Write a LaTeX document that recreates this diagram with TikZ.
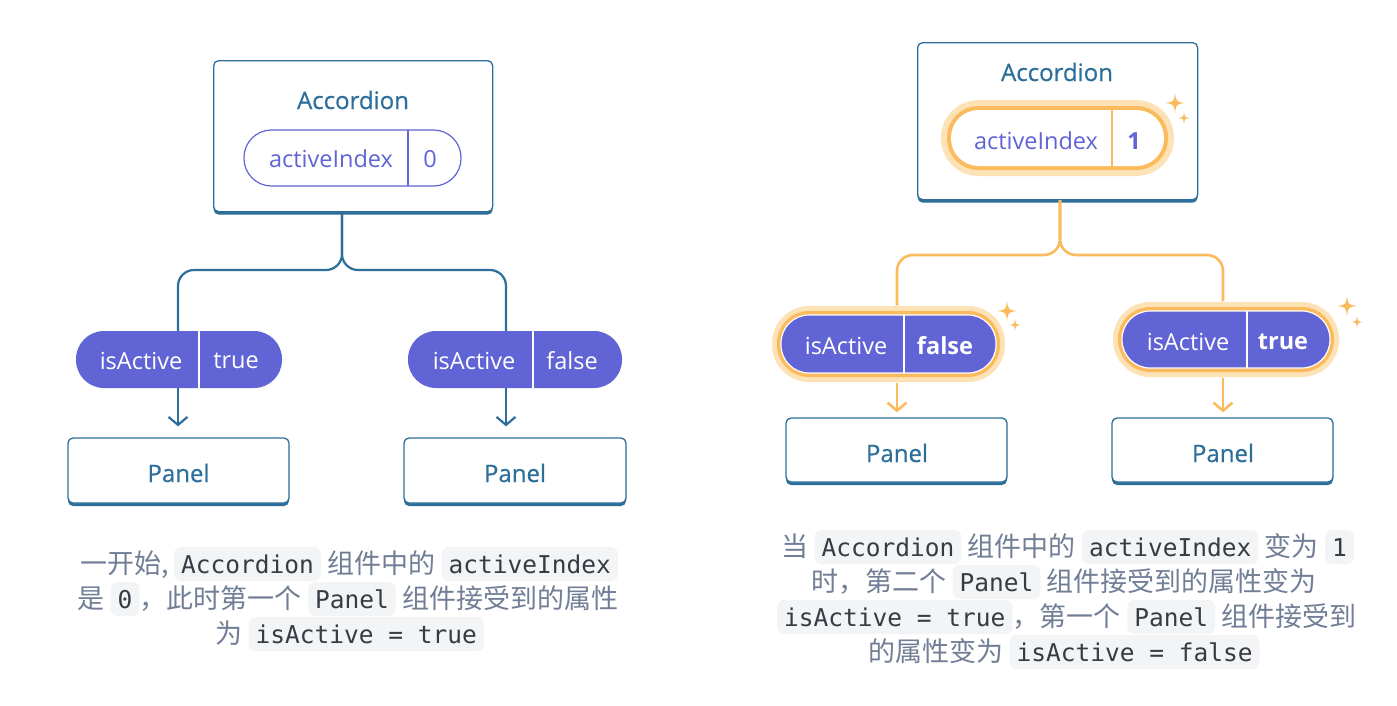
\documentclass[tikz,border=0pt]{standalone}
\usepackage{fontspec}
\setmainfont{Open Sans}
\setmonofont{DejaVu Sans Mono}
\newfontfamily\cjk{Noto Sans CJK SC}
\newfontfamily\uimed[FakeBold=0.6]{Open Sans}
\usetikzlibrary{arrows.meta}
\definecolor{rblue}{HTML}{2D6F9A}
\definecolor{rpurple}{HTML}{6064D4}
\definecolor{rorange}{HTML}{FBBA5C}
\definecolor{rglow}{HTML}{FDE2B6}
\definecolor{capgray}{HTML}{717E96}
\definecolor{codebg}{HTML}{F3F4F6}
\definecolor{codetext}{HTML}{363B44}
\tikzset{
  box/.style={draw=rblue, line width=1.3pt, fill=white, rounded corners=5pt, inner sep=0pt,
    preaction={fill=rblue, transform canvas={yshift=-3pt}}},
  title/.style={text=rblue, font=\uimed\fontsize{24}{24}\selectfont, inner sep=0pt},
  pilltxt/.style={font=\fontsize{23.5}{24}\selectfont, inner sep=0pt},
  pillbold/.style={font=\bfseries\fontsize{23.5}{24}\selectfont, inner sep=0pt},
  pillout/.style={draw=rpurple, line width=1.2pt, fill=white, rounded corners=27.5pt, inner sep=0pt},
  pillfill/.style={fill=rpurple, rounded corners=28pt, inner sep=0pt},
  hlpill/.style={fill=rpurple, draw=white, line width=1.2pt, rounded corners=28pt, inner sep=0pt,
    preaction={draw=rglow, line width=18pt}, preaction={draw=rorange, line width=8pt}},
  hlwhite/.style={fill=white, rounded corners=27.5pt, inner sep=0pt,
    preaction={draw=rglow, line width=20pt}, preaction={draw=rorange, line width=8pt}},
  conn/.style={draw=rblue, line width=2.2pt, rounded corners=16pt},
  oconn/.style={draw=rorange, line width=2.6pt, rounded corners=16pt},
  barb/.style={-{Straight Barb[length=8pt, width=19pt]}},
  captxt/.style={anchor=base west, inner sep=0pt, font=\cjk\fontsize{27}{27}\selectfont, text=capgray},
  chip/.style={anchor=base west, fill=codebg, rounded corners=7pt, inner xsep=7pt, inner ysep=6pt,
    text height=20pt, text depth=2pt, font=\ttfamily\fontsize{24.5}{24.5}\selectfont, text=codetext},
  sparkle/.pic={\fill[rorange] (0,-1) .. controls (0.12,-0.12) .. (1,0) .. controls (0.12,0.12) .. (0,1)
     .. controls (-0.12,0.12) .. (-1,0) .. controls (-0.12,-0.12) .. cycle;}
}
\begin{document}
\begin{tikzpicture}[x=1pt, y=-1pt]
\useasboundingbox (0,0) rectangle (1397,705);
\fill[white] (0,0) rectangle (1397,705);

% ===== LEFT =====
\node[box, minimum width=279pt, minimum height=151pt, anchor=north west] (accL) at (213,60) {};
\node[title] (accLt) at (353,100) {Accordion};
\node[pillout, minimum width=217pt, minimum height=56pt] (aiL) at (352.5,158) {};
\draw[rpurple, line width=1.2pt] (408,130) -- (408,186);
\node[pilltxt, text=rpurple] (aiLk) at (331,159) {activeIndex};
\node[pilltxt, text=rpurple] (aiLv) at (430,159) {0};

\coordinate (jL) at (342,212);
\node[pillfill, minimum width=206pt, minimum height=57pt] (pL1) at (179,359.5) {};
\draw[white, line width=1.2pt] (199,331) -- (199,388);
\node[pilltxt, text=white] (pL1k) at (141,361) {isActive};
\node[pilltxt, text=white] (pL1v) at (236,361) {true};

\node[pillfill, minimum width=214pt, minimum height=57pt] (pL2) at (515,359.5) {};
\draw[white, line width=1.2pt] (533,331) -- (533,388);
\node[pilltxt, text=white] (pL2k) at (474,361) {isActive};
\node[pilltxt, text=white] (pL2v) at (572,361) {false};

\draw[conn] (jL) -- (342,270) -| ([xshift=-1pt]pL1.north);
\draw[conn] (jL) -- (342,270) -| ([xshift=-9pt]pL2.north);

\node[box, minimum width=221pt, minimum height=65pt] (panL1) at (178.5,470.5) {};
\node[title] (panL1t) at (178.5,473) {Panel};
\node[box, minimum width=222pt, minimum height=65pt] (panL2) at (515,470.5) {};
\node[title] (panL2t) at (515,473) {Panel};

\draw[rblue, line width=2.2pt, barb, shorten >=11pt] ([xshift=-1pt]pL1.south) -- ([xshift=-0.5pt]panL1.north);
\draw[rblue, line width=2.2pt, barb, shorten >=11pt] ([xshift=-9pt]pL2.south) -- ([xshift=-9pt]panL2.north);

% ===== RIGHT =====
\node[box, minimum width=280pt, minimum height=157pt, anchor=north west] (accR) at (917,42) {};
\node[title] (accRt) at (1057,72) {Accordion};
\node[hlwhite, minimum width=213pt, minimum height=56pt] (aiR) at (1057.5,138) {};
\draw[rorange, line width=1.5pt] (1112,110) -- (1112,166);
\node[pilltxt, text=rpurple] (aiRk) at (1036,141) {activeIndex};
\node[pillbold, text=rpurple] (aiRv) at (1134,141) {1};
\pic at (1175,103) [scale=10] {sparkle};
\pic at (1184,118) [scale=6] {sparkle};

\coordinate (jR) at (1060,200);
\node[hlpill, minimum width=215pt, minimum height=58pt] (pR1) at (888.5,344) {};
\draw[white, line width=1.2pt] (904,315) -- (904,373);
\node[pilltxt, text=white] (pR1k) at (846,346) {isActive};
\node[pillbold, text=white] (pR1v) at (945,346) {false};
\pic at (1007,311) [scale=10] {sparkle};
\pic at (1015,325) [scale=6] {sparkle};

\node[hlpill, minimum width=208pt, minimum height=57pt] (pR2) at (1226,339.5) {};
\draw[white, line width=1.2pt] (1247,311) -- (1247,368);
\node[pilltxt, text=white] (pR2k) at (1188,342) {isActive};
\node[pillbold, text=white] (pR2v) at (1283,342) {true};
\pic at (1347,306) [scale=10] {sparkle};
\pic at (1357,322) [scale=6] {sparkle};

\draw[oconn] (jR) -- (1060,255) -| ([xshift=8.5pt, yshift=9pt]pR1.north);
\draw[oconn] (jR) -- (1060,255) -| ([xshift=-3pt, yshift=9pt]pR2.north);

\node[box, minimum width=221pt, minimum height=64pt] (panR1) at (896.5,450) {};
\node[title] (panR1t) at (897,453) {Panel};
\node[box, minimum width=221pt, minimum height=64pt] (panR2) at (1222.5,450) {};
\node[title] (panR2t) at (1223,453) {Panel};

\draw[rorange, line width=2.6pt, barb, shorten >=5pt] ([xshift=8.5pt, yshift=-9pt]pR1.south) -- ([xshift=0.5pt]panR1.north);
\draw[rorange, line width=2.6pt, barb, shorten >=5pt] ([xshift=-3pt, yshift=-9pt]pR2.south) -- ([xshift=0.5pt]panR2.north);

% ===== LEFT CAPTION =====
\node[captxt] (c1a) at (80,573) {一开始,};
\node[chip] (c1b) at ([xshift=5pt]c1a.base east) {Accordion};
\node[captxt] (c1c) at ([xshift=6pt]c1b.base east) {组件中的};
\node[chip] (c1d) at ([xshift=6pt]c1c.base east) {activeIndex};

\node[captxt] (c2a) at (77,608) {是};
\node[chip] (c2b) at ([xshift=6pt]c2a.base east) {0};
\node[captxt] (c2c) at ([xshift=0pt]c2b.base east) {，此时第一个};
\node[chip] (c2d) at ([xshift=6pt]c2c.base east) {Panel};
\node[captxt] (c2e) at ([xshift=6pt]c2d.base east) {组件接受到的属性};

\node[captxt] (c3a) at (215,643) {为};
\node[chip] (c3b) at ([xshift=6pt]c3a.base east) {isActive = true};

% ===== RIGHT CAPTION =====
\node[captxt] (d1a) at (781,556) {当};
\node[chip] (d1b) at ([xshift=6pt]d1a.base east) {Accordion};
\node[captxt] (d1c) at ([xshift=6pt]d1b.base east) {组件中的};
\node[chip] (d1d) at ([xshift=6pt]d1c.base east) {activeIndex};
\node[captxt] (d1e) at ([xshift=6pt]d1d.base east) {变为};
\node[chip] (d1f) at ([xshift=6pt]d1e.base east) {1};

\node[captxt] (d2a) at (811,591) {时，第二个};
\node[chip] (d2b) at ([xshift=6pt]d2a.base east) {Panel};
\node[captxt] (d2c) at ([xshift=6pt]d2b.base east) {组件接受到的属性变为};

\node[chip] (d3a) at (777,626) {isActive = true};
\node[captxt] (d3b) at ([xshift=0pt]d3a.base east) {，第一个};
\node[chip] (d3c) at ([xshift=6pt]d3b.base east) {Panel};
\node[captxt] (d3d) at ([xshift=6pt]d3c.base east) {组件接受到};

\node[captxt] (d4a) at (868,661) {的属性变为};
\node[chip] (d4b) at ([xshift=6pt]d4a.base east) {isActive = false};
\end{tikzpicture}
\end{document}
